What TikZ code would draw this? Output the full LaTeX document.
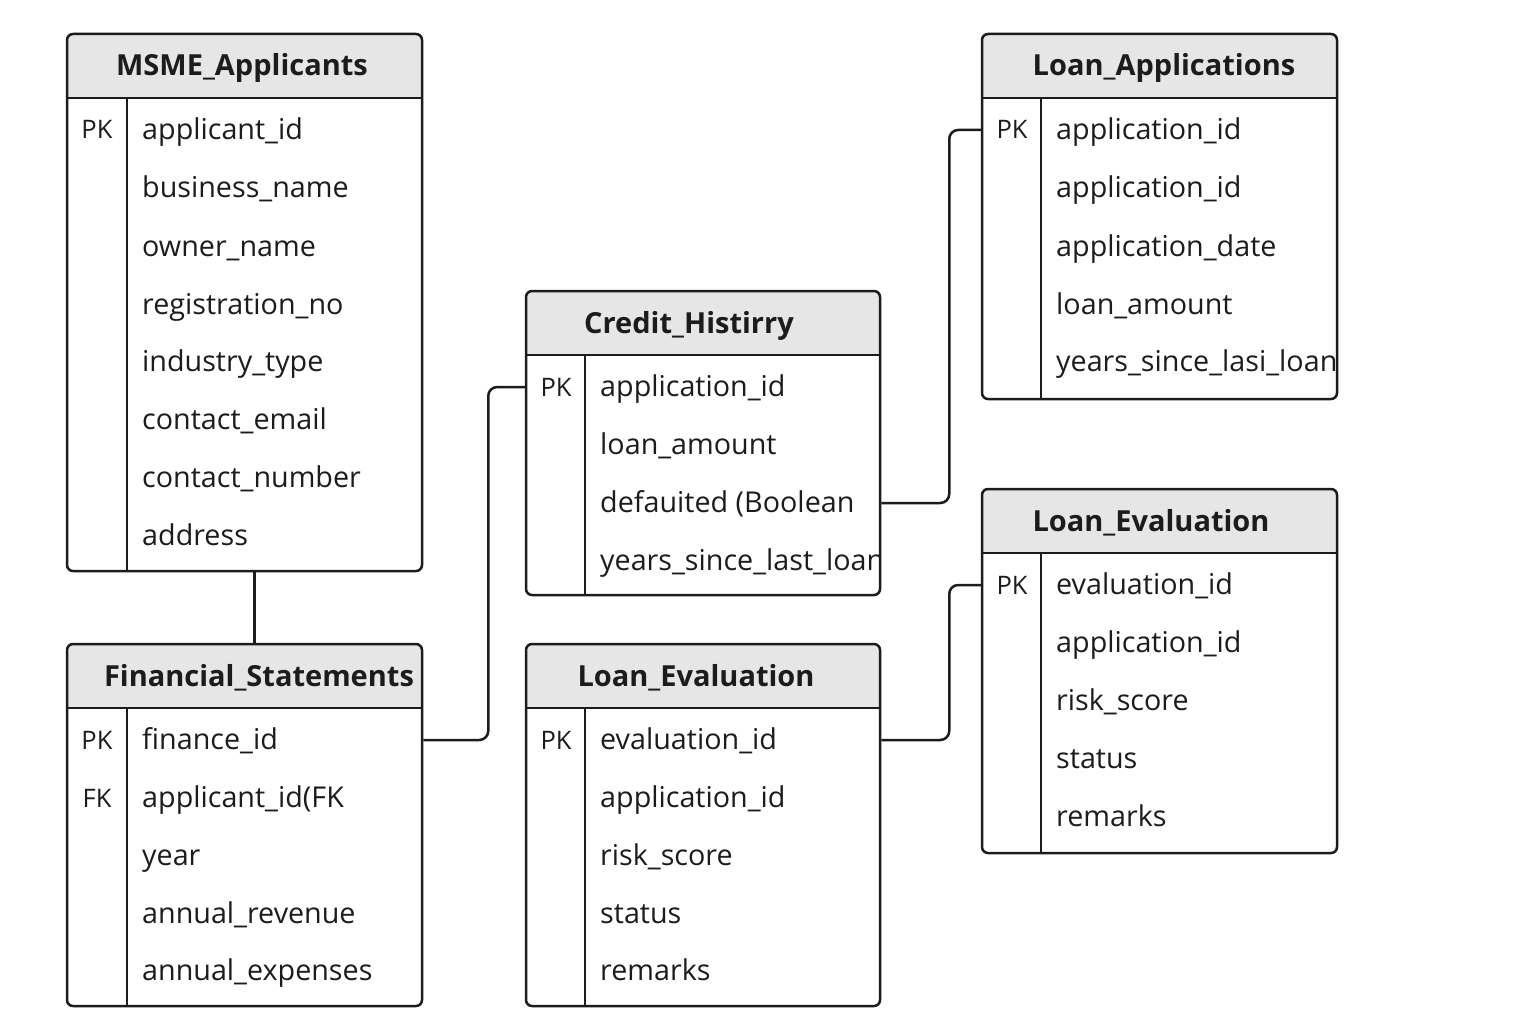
\documentclass[tikz,border=0pt]{standalone}
\usepackage{fontspec}
\setmainfont{Open Sans}
\definecolor{ink}{HTML}{1C1C1C}
\definecolor{hdr}{HTML}{E6E6E6}
\tikzset{
  tbl/.style={draw=ink, line width=2.5pt, rounded corners=6pt, inner sep=0pt, fill=none},
  sep/.style={draw=ink, line width=2.5pt},
  title/.style={font=\fontsize{29}{34}\selectfont\bfseries, text=ink, inner sep=0pt, text height=20pt, text depth=0pt, anchor=center},
  fld/.style={font=\fontsize{28.7}{32}\selectfont, text=ink, inner sep=0pt, text height=19pt, text depth=0pt, anchor=west},
  key/.style={font=\fontsize{25.5}{30}\selectfont, text=ink, inner sep=0pt, text height=18pt, text depth=0pt, anchor=center},
  conn/.style={draw=ink, line width=2.5pt, rounded corners=9pt}
}
% name, x1, y1, x2, y2, divider x
\newcommand{\ertab}[6]{%
  \begin{scope}
    \clip[rounded corners=6pt] (#2,#3) rectangle (#4,#5);
    \fill[white] (#2,#3) rectangle (#4,#5);
    \fill[hdr] (#2,#3) rectangle (#4,#3+64);
  \end{scope}
  \node[tbl, minimum width=#4pt-#2pt, minimum height=#5pt-#3pt] (#1) at ({(#2+#4)/2},{(#3+#5)/2}) {};
  \draw[sep] (#2,#3+64) -- (#4,#3+64);
  \draw[sep] (#6,#3+64) -- (#6,#5);
}
\begin{document}
\begin{tikzpicture}[x=1pt,y=-1pt]
\useasboundingbox (0,0) rectangle (1536,1024);
\fill[white] (0,0) rectangle (1536,1024);

% ---------------- MSME_Applicants
\ertab{msme}{67}{34}{422}{571}{127}
\node[title] (msmeT) at (242,66) {MSME\_Applicants};
\node[key] (msmeK1) at (97,130) {PK};
\node[fld] (msme1) at (142,130) {applicant\_id};
\node[fld] (msme2) at (142,188) {business\_name};
\node[fld] (msme3) at (142,247) {owner\_name};
\node[fld] (msme4) at (142,305) {registration\_no};
\node[fld] (msme5) at (142,362) {industry\_type};
\node[fld] (msme6) at (142,420) {contact\_email};
\node[fld] (msme7) at (142,478) {contact\_number};
\node[fld] (msme8) at (142,536) {address};

% ---------------- Financial_Statements
\ertab{fin}{67}{644}{422}{1006}{127}
\node[title] (finT) at (259,676) {Financial\_Statements};
\node[key] (finK1) at (97,740) {PK};
\node[key] (finK2) at (97,798) {FK};
\node[fld] (fin1) at (142,740) {finance\_id};
\node[fld] (fin2) at (142,798) {applicant\_id(FK};
\node[fld] (fin3) at (142,856) {year};
\node[fld] (fin4) at (142,914) {annual\_revenue};
\node[fld] (fin5) at (142,971) {annual\_expenses};

% ---------------- Credit_Histirry
\ertab{cred}{526}{291}{880}{595}{585}
\node[title] (credT) at (689,323) {Credit\_Histirry};
\node[key] (credK1) at (556,387) {PK};
\node[fld] (cred1) at (600,387) {application\_id};
\node[fld] (cred2) at (600,445) {loan\_amount};
\node[fld] (cred3) at (600,503) {defauited (Boolean};
\begin{scope}
  \clip (585,540) rectangle (878,590);
  \node[fld] (cred4) at (600,561) {years\_since\_last\_loan};
\end{scope}

% ---------------- Loan_Evaluation (middle)
\ertab{evm}{526}{644}{880}{1006}{585}
\node[title] (evmT) at (696,676) {Loan\_Evaluation};
\node[key] (evmK1) at (556,740) {PK};
\node[fld] (evm1) at (600,740) {evaluation\_id};
\node[fld] (evm2) at (600,798) {application\_id};
\node[fld] (evm3) at (600,856) {risk\_score};
\node[fld] (evm4) at (600,914) {status};
\node[fld] (evm5) at (600,971) {remarks};

% ---------------- Loan_Applications
\ertab{app}{982}{34}{1337}{399}{1041}
\node[title] (appT) at (1164,66) {Loan\_Applications};
\node[key] (appK1) at (1012,130) {PK};
\node[fld] (app1) at (1056,130) {application\_id};
\node[fld] (app2) at (1056,188) {application\_id};
\node[fld] (app3) at (1056,247) {application\_date};
\node[fld] (app4) at (1056,305) {loan\_amount};
\begin{scope}
  \clip (1041,340) rectangle (1335,390);
  \node[fld] (app5) at (1056,362) {years\_since\_lasi\_loan};
\end{scope}

% ---------------- Loan_Evaluation (right)
\ertab{evr}{982}{489}{1337}{853}{1041}
\node[title] (evrT) at (1151,521) {Loan\_Evaluation};
\node[key] (evrK1) at (1012,585) {PK};
\node[fld] (evr1) at (1056,585) {evaluation\_id};
\node[fld] (evr2) at (1056,643) {application\_id};
\node[fld] (evr3) at (1056,701) {risk\_score};
\node[fld] (evr4) at (1056,759) {status};
\node[fld] (evr5) at (1056,817) {remarks};

% ---------------- connectors
\draw[conn] ([xshift=10pt]msme.south) -- ([xshift=10pt]fin.north);
\draw[conn] (fin.east |- fin1.west) -- ++(65,0) |- (cred.west |- cred1.west);
\draw[conn] (cred.east |- cred3.west) -- ++(68,0) |- (app.west |- app1.west);
\draw[conn] (evm.east |- evm1.west) -- ++(68,0) |- (evr.west |- evr1.west);
\end{tikzpicture}
\end{document}
